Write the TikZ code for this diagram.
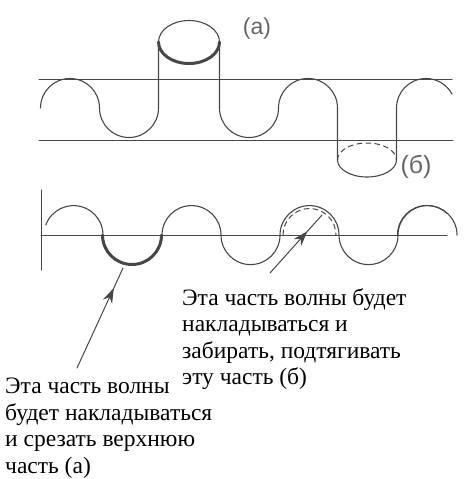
\documentclass[tikz,border=0pt]{standalone}
\usepackage{fontspec}
\setmainfont{Liberation Serif}
\newfontfamily\notefont{Liberation Serif}
\newfontfamily\labelfont{Liberation Sans}
\usetikzlibrary{arrows.meta,decorations.markings}
\colorlet{myline}{black!72}
\colorlet{mylabel}{black!60}
\tikzset{
  >=latex,
  mid arrow/.style={postaction={decorate},
    decoration={markings,mark=at position #1 with {\arrow{Stealth[length=15,width=10]}}}}
}

\begin{document}
\begin{tikzpicture}[x=1pt, y=-1pt, line cap=round]
\useasboundingbox (0,0) rectangle (474,479);

% Стили
\tikzstyle{wave} = [draw=myline, line width=1.1pt]
\tikzstyle{guide} = [draw=myline, line width=1pt]
\tikzstyle{cut part} = [draw=myline, line width=3pt]
\tikzstyle{ghost part} = [draw=myline, line width=1pt, dash pattern=on 5pt off 4pt]
\tikzstyle{pointer} = [draw=myline, line width=1pt]
\tikzstyle{tag} = [text=mylabel, inner sep=0pt]
\tikzstyle{note} = [align=left, inner sep=0pt, anchor=north west,
  font=\notefont\fontsize{23.5}{26.5}\selectfont]

% Радиус полуволны
\def\r{29.5}

% Верхняя волна: направляющие
\draw[guide] (39,79) -- (452,79);
\draw[guide] (39,140) -- (453,140);

% Верхняя волна
\draw[wave] (40.5,108) arc[start angle=180, end angle=360, radius=\r]
  arc[start angle=180, end angle=0, radius=\r] -- (158.5,42);
\draw[wave] (189,42) ellipse[x radius=30.5, y radius=21.5];
\draw[cut part] (158.5,42) arc[start angle=180, end angle=0, x radius=30.5, y radius=21.5];
\draw[wave] (219.5,42) -- (219.5,108) arc[start angle=180, end angle=0, radius=\r]
  arc[start angle=180, end angle=360, radius=\r] -- (337.5,160);
\draw[wave] (337.5,160) arc[start angle=180, end angle=0, x radius=29.5, y radius=17];
\draw[ghost part] (337.5,160) arc[start angle=180, end angle=360, x radius=29.5, y radius=17];
\draw[wave] (396.5,160) -- (396.5,108) arc[start angle=180, end angle=332, radius=\r];

\node[tag, font=\labelfont\fontsize{23}{23}\selectfont] (lab-a) at (257,29) {(a)};
\node[tag, font=\labelfont\fontsize{25}{25}\selectfont] (lab-b) at (416,167) {(б)};

% Нижняя волна
\draw[guide] (41,190) -- (41,270);
\draw[guide] (41,235) -- (447,235);
\draw[wave] (45.8,225) arc[start angle=200, end angle=360, radius=\r]
  \foreach \k in {1,...,3} {
    arc[start angle=180, end angle=0, radius=\r]
    arc[start angle=180, end angle=360, radius=\r]
  };
\draw[wave] (397.5,235) arc[start angle=180, end angle=313, radius=\r];
\draw[cut part] (102.5,235) arc[start angle=180, end angle=0, radius=\r];
\draw[ghost part] (283,235) arc[start angle=180, end angle=360, radius=26.5];

% Подписи
\node[note] (note-b) at (182,288) {Эта часть волны будет\\накладываться и\\забирать, подтягивать\\эту часть (б)};
\node[note] (note-a) at (5,378) {Эта часть волны\\будет накладываться\\и срезать верхнюю\\часть (а)};

% Стрелки
\coordinate (tail-a) at (77,368);
\coordinate (head-a) at (123,268);
\coordinate (tail-b) at (270,273);
\coordinate (head-b) at (322,215);
\draw[pointer, mid arrow=0.8] (tail-a) -- (head-a);
\draw[pointer, mid arrow=0.72] (tail-b) -- (head-b);

\end{tikzpicture}
\end{document}
